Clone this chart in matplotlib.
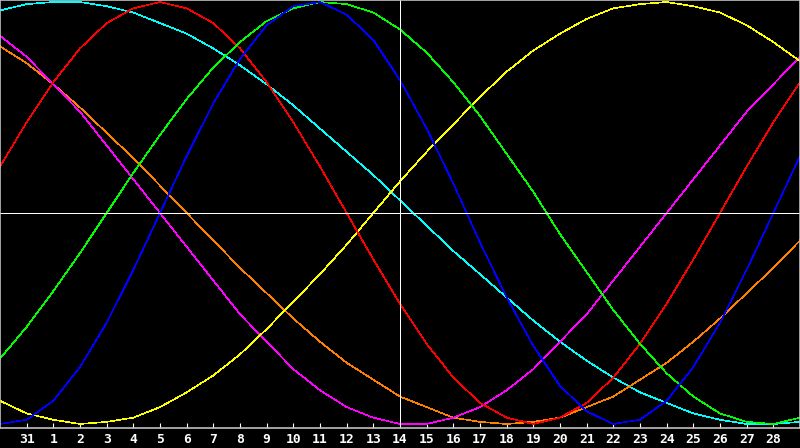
import numpy as np
import matplotlib
matplotlib.use('Agg')
import matplotlib.pyplot as plt

# ============================================================================
# DATOS: biorritmos, un valor por dia (30 -> 1 marzo)
# ============================================================================
dias = ['30', '31'] + [str(d) for d in range(1, 29)] + ['1']
etiquetas = ['31'] + [str(d) for d in range(1, 29)]   # dias rotulados

fisico = [-1.00, -0.98, -0.89, -0.73, -0.52, -0.27, 0.00, 0.27, 0.52, 0.73, 0.89,
          0.98, 1.00, 0.94, 0.82, 0.63, 0.40, 0.14, -0.14, -0.40, -0.63, -0.82,
          -0.94, -1.00, -0.98, -0.89, -0.73, -0.52, -0.27, 0.00, 0.27]
emocional = [0.22, 0.43, 0.62, 0.78, 0.90, 0.97, 1.00, 0.97, 0.90, 0.78, 0.62,
             0.43, 0.22, 0.00, -0.22, -0.43, -0.62, -0.78, -0.90, -0.97, -1.00,
             -0.97, -0.90, -0.78, -0.62, -0.43, -0.22, 0.00, 0.22, 0.43, 0.62]
intelectual = [-0.69, -0.54, -0.37, -0.19, 0.00, 0.19, 0.37, 0.54, 0.69, 0.81, 0.91,
               0.97, 1.00, 0.99, 0.95, 0.87, 0.76, 0.62, 0.46, 0.28, 0.10, -0.10,
               -0.28, -0.46, -0.62, -0.76, -0.87, -0.95, -0.99, -1.00, -0.97]
espiritual = [0.96, 0.99, 1.00, 1.00, 0.98, 0.95, 0.90, 0.85, 0.78, 0.70, 0.61,
              0.51, 0.40, 0.29, 0.18, 0.06, -0.06, -0.18, -0.29, -0.40, -0.51,
              -0.61, -0.70, -0.78, -0.85, -0.90, -0.95, -0.98, -1.00, -1.00, -0.99]
intuitivo = [0.84, 0.74, 0.61, 0.48, 0.32, 0.16, 0.00, -0.16, -0.32, -0.48, -0.61,
             -0.74, -0.84, -0.92, -0.97, -1.00, -1.00, -0.97, -0.92, -0.84, -0.74,
             -0.61, -0.48, -0.32, -0.16, 0.00, 0.16, 0.32, 0.48, 0.61, 0.74]
estetico = [-0.89, -0.95, -0.98, -1.00, -0.99, -0.97, -0.92, -0.85, -0.77, -0.67, -0.55,
            -0.42, -0.29, -0.15, 0.00, 0.15, 0.29, 0.42, 0.55, 0.67, 0.77, 0.85,
            0.92, 0.97, 0.99, 1.00, 0.98, 0.95, 0.89, 0.81, 0.72]
conciencia = [0.79, 0.71, 0.61, 0.50, 0.38, 0.26, 0.13, 0.00, -0.13, -0.26, -0.38,
              -0.50, -0.61, -0.71, -0.79, -0.87, -0.92, -0.97, -0.99, -1.00, -0.99,
              -0.97, -0.92, -0.87, -0.79, -0.71, -0.61, -0.50, -0.38, -0.26, -0.13]

series = [
    (espiritual, '#00FFFF'),
    (conciencia, '#FF8000'),
    (intuitivo, '#FF00FF'),
    (estetico, '#FFFF00'),
    (emocional, '#FF0000'),
    (intelectual, '#00FF00'),
    (fisico, '#0000FF'),
]

# ============================================================================
# GRAFICO
# ============================================================================
fig = plt.figure(figsize=(8, 4.48), dpi=100, facecolor='black')
ax = fig.add_axes([0, 20 / 448, 1, 428 / 448], facecolor='black')

x = np.arange(len(dias))
for valores, color in series:
    ax.plot(x, valores, color=color, linewidth=0.45, antialiased=False)

# cruz central (hoy)
ax.axhline(0, color='white', linewidth=0.6, antialiased=False)
ax.axvline(15, color='white', linewidth=0.6, antialiased=False)

ax.set_xlim(0, len(dias) - 1)
ax.set_ylim(-1.019, 1.0095)

for s in ax.spines.values():
    s.set_color('#C0C0C0')
    s.set_linewidth(1.2)

ax.set_yticks([])
ax.set_xticks(x[1:-1])
ax.set_xticklabels(etiquetas, color='white', fontsize=9.4,
                   fontfamily='DejaVu Sans Mono', fontweight='bold')
ax.tick_params(axis='x', direction='in', length=3.6, width=0.8,
               color='white', pad=3.5)

plt.savefig('out.png', dpi=100, facecolor='black')
plt.close()
